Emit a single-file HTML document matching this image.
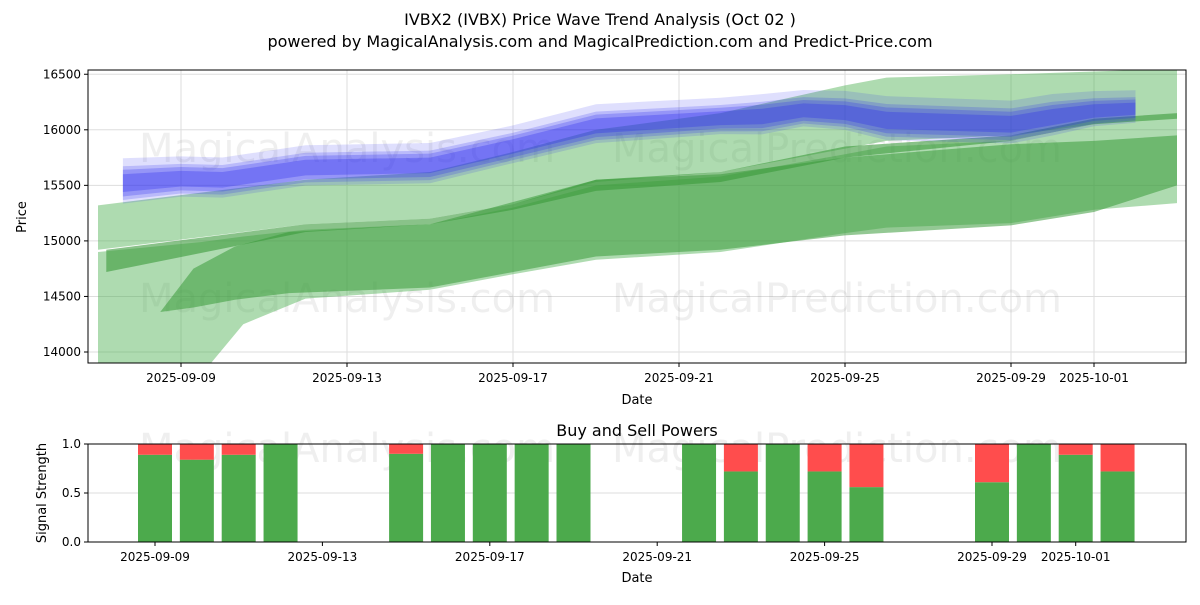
<!DOCTYPE html>
<html><head><meta charset="utf-8"><style>
body{margin:0;background:#fff;font-family:"Liberation Sans","DejaVu Sans",sans-serif}
svg text{font-family:"DejaVu Sans","Liberation Sans",sans-serif}
</style></head><body>
<svg id="c" width="1200" height="600" viewBox="0 0 1200 600"></svg>
<script>
// ---- data ----
const bandADays=[-2,3,6,8,10,13,16,17,20,24];
const bandAUp=[15320,15550,15620,15800,16000,16150,16400,16470,16500,16550];
const bandALo=[14920,15150,15200,15330,15530,15620,15830,15900,15950,16150];
const bandBDays=[-1.8,3,6,8,10,13,16,20,22,24];
const bandBUp=[14920,15150,15200,15330,15550,15620,15850,15950,16100,16150];
const bandBLo=[14720,15080,15150,15280,15450,15530,15750,15900,16050,16100];
const bandCDays=[-2,0.5,1.5,3,6,8,10,13,16,17,20,22,24];
const bandCUp=[14900,14990,15040,15100,15150,15300,15500,15580,15780,15850,15900,16050,16150];
const bandCLo=[13700,13800,14250,14480,14560,14700,14830,14900,15070,15120,15160,15280,15340];
const bandDDays=[-0.5,0.3,1.3,2.6,6,10,13,16,20,22,24];
const bandDUp=[14360,14750,14950,15080,15150,15550,15600,15750,15870,15900,15950];
const bandDLo=[14360,14400,14470,14530,14580,14860,14920,15050,15140,15260,15500];
const blueDays=[-1.4,0,1,3,6,8,10,13,14,15,16,17,20,21,22,23];
const blueUp=[15680,15700,15690,15800,15820,15980,16170,16230,16260,16300,16290,16240,16200,16260,16290,16300];
const blueLo=[15360,15420,15410,15520,15540,15720,15900,15980,15980,16050,16020,15930,15900,15970,16050,16080];
const yTicks=[14000,14500,15000,15500,16000,16500];
const xTickDays=[0,4,8,12,16,20,22];
const xTickLabels=["2025-09-09","2025-09-13","2025-09-17","2025-09-21","2025-09-25","2025-09-29","2025-10-01"];
const barDays=[0,1,2,3,6,7,8,9,10,13,14,15,16,17,20,21,22,23];
const buyVals=[0.89,0.84,0.89,1,0.9,1,1,1,1,1,0.72,1,0.72,0.56,0.61,1,0.89,0.72];
const sTicks=[0,0.5,1];

const S=document.getElementById('c');const NS='http://www.w3.org/2000/svg';
function el(t,a,p){const e=document.createElementNS(NS,t);for(const k in a)e.setAttribute(k,a[k]);(p||S).appendChild(e);return e;}
const X=d=>181+41.5*d, Y=v=>352-(v-14000)*0.1111;
const XB=d=>155+41.85*d, YB=v=>542-v*98;

// top chart
const gTop=el('g',{});


el('defs',{}).innerHTML='<clipPath id="cp"><rect x="88" y="70" width="1098" height="293"/></clipPath>';
yTicks.forEach(v=>{const l=el('line',{x1:88,x2:1186,y1:Y(v),y2:Y(v),stroke:'#ddd','stroke-width':1},gTop);});
xTickDays.forEach(d=>{const l=el('line',{x1:X(d),x2:X(d),y1:70,y2:363,stroke:'#ddd','stroke-width':1},gTop);});
const wm=[["MagicalAnalysis.com",347,148],["MagicalPrediction.com",837,148],["MagicalAnalysis.com",347,298],["MagicalPrediction.com",837,298]];
wm.forEach(w=>{const t=el('text',{x:w[1],y:w[2]+14,'font-size':40,fill:'rgba(140,140,140,0.14)','text-anchor':'middle'},gTop);t.textContent=w[0];});
const clipG=el('g',{'clip-path':'url(#cp)'},gTop);
function band(days,up,lo,fill,op,name){
  let pts=days.map((d,i)=>X(d)+','+Y(up[i]));
  for(let i=days.length-1;i>=0;i--)pts.push(X(days[i])+','+Y(lo[i]));
  const p=el('polygon',{points:pts.join(' '),fill:fill,'fill-opacity':op},clipG);
  
  
}
band(bandCDays,bandCUp,bandCLo,'#4caf50',0.45,'green-band-wide');
band(bandADays,bandAUp,bandALo,'#4caf50',0.45,'green-band-upper');
band(bandDDays,bandDUp,bandDLo,'#3a9a3a',0.55,'green-band-core');
band(bandBDays,bandBUp,bandBLo,'#3a9a3a',0.6,'green-band-thin');
// blue layered bands
[[1.15,0.15],[0.95,0.2],[0.75,0.25],[0.5,0.3]].forEach((s,k)=>{
  const mid=blueUp.map((u,i)=>(u+blueLo[i])/2);
  const up=blueUp.map((u,i)=>mid[i]+(u-mid[i])*s[0]+(k==0?40:0));
  const lo=blueLo.map((l,i)=>mid[i]+(l-mid[i])*s[0]);
  band(blueDays,up,lo,'#2828f0',s[1],'blue-band');
});
el('rect',{x:88,y:70,width:1098,height:293,fill:'none',stroke:'#000','stroke-width':1},gTop);
yTicks.forEach(v=>{el('line',{x1:84,x2:88,y1:Y(v),y2:Y(v),stroke:'#000'},gTop);const t=el('text',{x:81,y:Y(v)+4,'font-size':12,'text-anchor':'end'},gTop);t.textContent=v;});
xTickDays.forEach((d,i)=>{el('line',{x1:X(d),x2:X(d),y1:363,y2:367,stroke:'#000'},gTop);const t=el('text',{x:X(d),y:382,'font-size':12,'text-anchor':'middle'},gTop);t.textContent=xTickLabels[i];});
let t=el('text',{x:637,y:404,'font-size':13,'text-anchor':'middle'});t.textContent='Date';
t=el('text',{x:26,y:217,'font-size':13,'text-anchor':'middle',transform:'rotate(-90 26 217)'});t.textContent='Price';
t=el('text',{x:600,y:25,'font-size':16,'text-anchor':'middle'});t.textContent='IVBX2 (IVBX) Price Wave Trend Analysis (Oct 02 )';
t=el('text',{x:600,y:47,'font-size':16,'text-anchor':'middle'});t.textContent='powered by MagicalAnalysis.com and MagicalPrediction.com and Predict-Price.com';

// bottom chart
const gB=el('g',{});


sTicks.forEach(v=>{el('line',{x1:88,x2:1186,y1:YB(v),y2:YB(v),stroke:'#ddd'},gB);});
[["MagicalAnalysis.com",347],["MagicalPrediction.com",837]].forEach(w=>{const t=el('text',{x:w[1],y:462,'font-size':40,fill:'rgba(140,140,140,0.14)','text-anchor':'middle'},gB);t.textContent=w[0];});
barDays.forEach((d,i)=>{
  const b=el('rect',{x:XB(d)-17,y:YB(buyVals[i]),width:34,height:YB(0)-YB(buyVals[i]),fill:'#4caa4c'},gB);
  
  
  const r=el('rect',{x:XB(d)-17,y:YB(1),width:34,height:YB(buyVals[i])-YB(1),fill:'#ff4d4d'},gB);
  
  
});
el('rect',{x:88,y:444,width:1098,height:98,fill:'none',stroke:'#000'},gB);
sTicks.forEach(v=>{el('line',{x1:84,x2:88,y1:YB(v),y2:YB(v),stroke:'#000'},gB);const t=el('text',{x:81,y:YB(v)+4,'font-size':12,'text-anchor':'end'},gB);t.textContent=v.toFixed(1);});
xTickDays.forEach((d,i)=>{el('line',{x1:XB(d),x2:XB(d),y1:542,y2:546,stroke:'#000'},gB);const t=el('text',{x:XB(d),y:561,'font-size':12,'text-anchor':'middle'},gB);t.textContent=xTickLabels[i];});
t=el('text',{x:637,y:582,'font-size':13,'text-anchor':'middle'});t.textContent='Date';
t=el('text',{x:46,y:493,'font-size':13,'text-anchor':'middle',transform:'rotate(-90 46 493)'});t.textContent='Signal Strength';
t=el('text',{x:637,y:436,'font-size':16,'text-anchor':'middle'});t.textContent='Buy and Sell Powers';
</script>
</body></html>
